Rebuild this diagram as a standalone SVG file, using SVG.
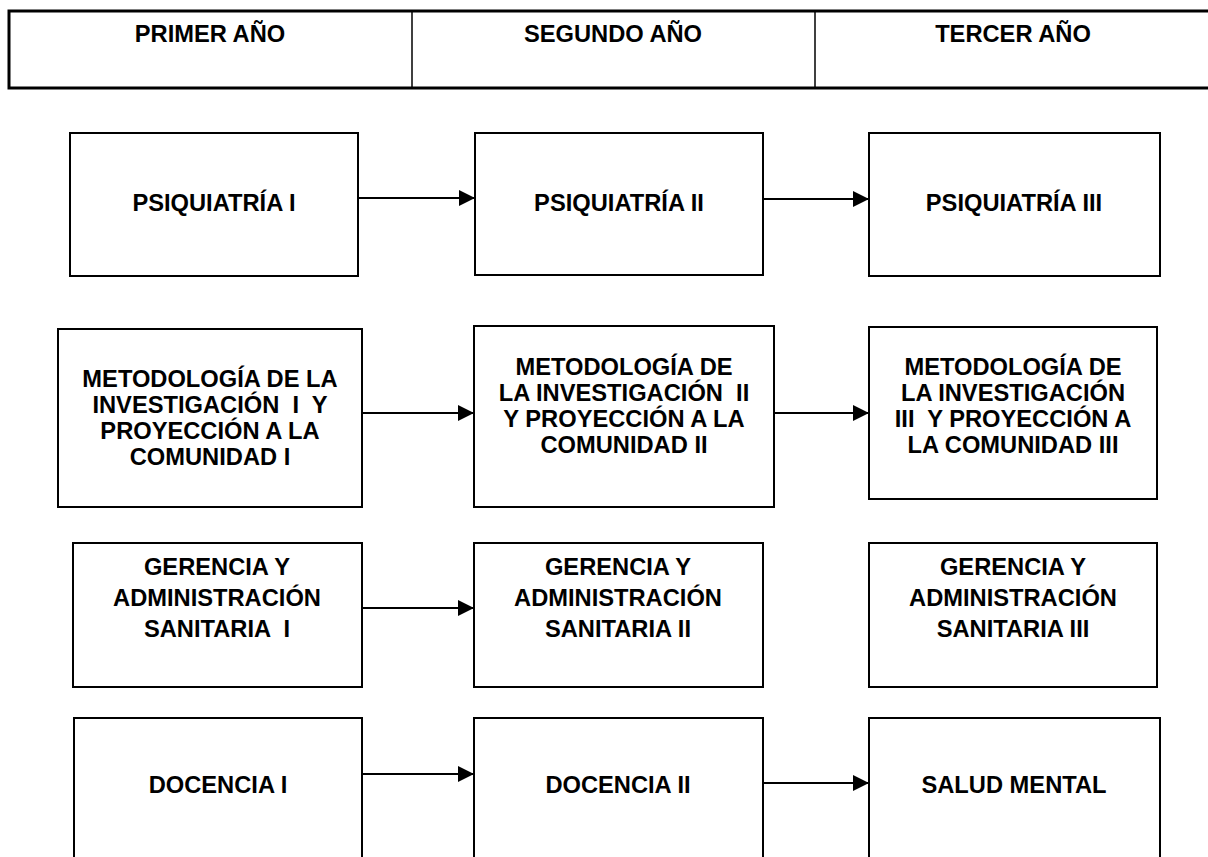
<svg xmlns="http://www.w3.org/2000/svg" width="1208" height="857" viewBox="0 0 1208 857">
<defs>
<style>
.box{fill:#fff;stroke:#000;stroke-width:2}
.hdr{fill:#fff;stroke:#000;stroke-width:3}
.div{stroke:#000;stroke-width:1.5}
.t{font-family:"Liberation Sans",Arial,sans-serif;font-weight:bold;font-size:23.7px;fill:#000;text-anchor:middle}
.c{stroke:#000;stroke-width:2;fill:none}
</style>
<marker id="ah" markerUnits="userSpaceOnUse" markerWidth="16" markerHeight="16" refX="16" refY="8" orient="auto">
<path d="M0,0 L16,8 L0,16 Z" fill="#000"/>
</marker>
</defs>
<rect width="1208" height="857" fill="#fff"/>
<g id="header">
<rect class="hdr" x="9" y="11" width="1210" height="77"/>
<line class="div" x1="412" y1="11" x2="412" y2="88"/>
<line class="div" x1="815" y1="11" x2="815" y2="88"/>
<text class="t" x="210" y="42">PRIMER AÑO</text>
<text class="t" x="613" y="42">SEGUNDO AÑO</text>
<text class="t" x="1013" y="42">TERCER AÑO</text>
</g>
<g id="connectors">
<line class="c" x1="358" y1="198" x2="475" y2="198" marker-end="url(#ah)"/>
<line class="c" x1="763" y1="199" x2="869" y2="199" marker-end="url(#ah)"/>
<line class="c" x1="362" y1="413" x2="474" y2="413" marker-end="url(#ah)"/>
<line class="c" x1="774" y1="413" x2="869" y2="413" marker-end="url(#ah)"/>
<line class="c" x1="362" y1="608" x2="474" y2="608" marker-end="url(#ah)"/>
<line class="c" x1="362" y1="774" x2="474" y2="774" marker-end="url(#ah)"/>
<line class="c" x1="763" y1="783" x2="869" y2="783" marker-end="url(#ah)"/>
</g>
<g id="psiq1">
<rect class="box" x="70" y="133" width="288" height="143"/>
<text class="t" x="214" y="211">PSIQUIATRÍA I</text>
</g>
<g id="psiq2">
<rect class="box" x="475" y="133" width="288" height="142"/>
<text class="t" x="619" y="211">PSIQUIATRÍA II</text>
</g>
<g id="psiq3">
<rect class="box" x="869" y="133" width="291" height="143"/>
<text class="t" x="1014" y="211">PSIQUIATRÍA III</text>
</g>
<g id="met1">
<rect class="box" x="58" y="329" width="304" height="178"/>
<text class="t" xml:space="preserve" x="210" y="387">METODOLOGÍA DE LA</text>
<text class="t" xml:space="preserve" x="210" y="413">INVESTIGACIÓN  I  Y</text>
<text class="t" xml:space="preserve" x="210" y="439">PROYECCIÓN A LA</text>
<text class="t" xml:space="preserve" x="210" y="465">COMUNIDAD I</text>
</g>
<g id="met2">
<rect class="box" x="474" y="326" width="300" height="181"/>
<text class="t" xml:space="preserve" x="624" y="375">METODOLOGÍA DE</text>
<text class="t" xml:space="preserve" x="624" y="401">LA INVESTIGACIÓN  II</text>
<text class="t" xml:space="preserve" x="624" y="427">Y PROYECCIÓN A LA</text>
<text class="t" xml:space="preserve" x="624" y="453">COMUNIDAD II</text>
</g>
<g id="met3">
<rect class="box" x="869" y="327" width="288" height="172"/>
<text class="t" xml:space="preserve" x="1013" y="375">METODOLOGÍA DE</text>
<text class="t" xml:space="preserve" x="1013" y="401">LA INVESTIGACIÓN</text>
<text class="t" xml:space="preserve" x="1013" y="427">III  Y PROYECCIÓN A</text>
<text class="t" xml:space="preserve" x="1013" y="453">LA COMUNIDAD III</text>
</g>
<g id="ger1">
<rect class="box" x="73" y="543" width="289" height="144"/>
<text class="t" xml:space="preserve" x="217" y="575">GERENCIA Y</text>
<text class="t" xml:space="preserve" x="217" y="606">ADMINISTRACIÓN</text>
<text class="t" xml:space="preserve" x="217" y="637">SANITARIA  I</text>
</g>
<g id="ger2">
<rect class="box" x="474" y="543" width="289" height="144"/>
<text class="t" xml:space="preserve" x="618" y="575">GERENCIA Y</text>
<text class="t" xml:space="preserve" x="618" y="606">ADMINISTRACIÓN</text>
<text class="t" xml:space="preserve" x="618" y="637">SANITARIA II</text>
</g>
<g id="ger3">
<rect class="box" x="869" y="543" width="288" height="144"/>
<text class="t" xml:space="preserve" x="1013" y="575">GERENCIA Y</text>
<text class="t" xml:space="preserve" x="1013" y="606">ADMINISTRACIÓN</text>
<text class="t" xml:space="preserve" x="1013" y="637">SANITARIA III</text>
</g>
<g id="doc1">
<rect class="box" x="74" y="718" width="288" height="160"/>
<text class="t" x="218" y="793">DOCENCIA I</text>
</g>
<g id="doc2">
<rect class="box" x="474" y="718" width="289" height="160"/>
<text class="t" x="618" y="793">DOCENCIA II</text>
</g>
<g id="salud">
<rect class="box" x="869" y="718" width="291" height="160"/>
<text class="t" x="1014" y="793">SALUD MENTAL</text>
</g>
</svg>
